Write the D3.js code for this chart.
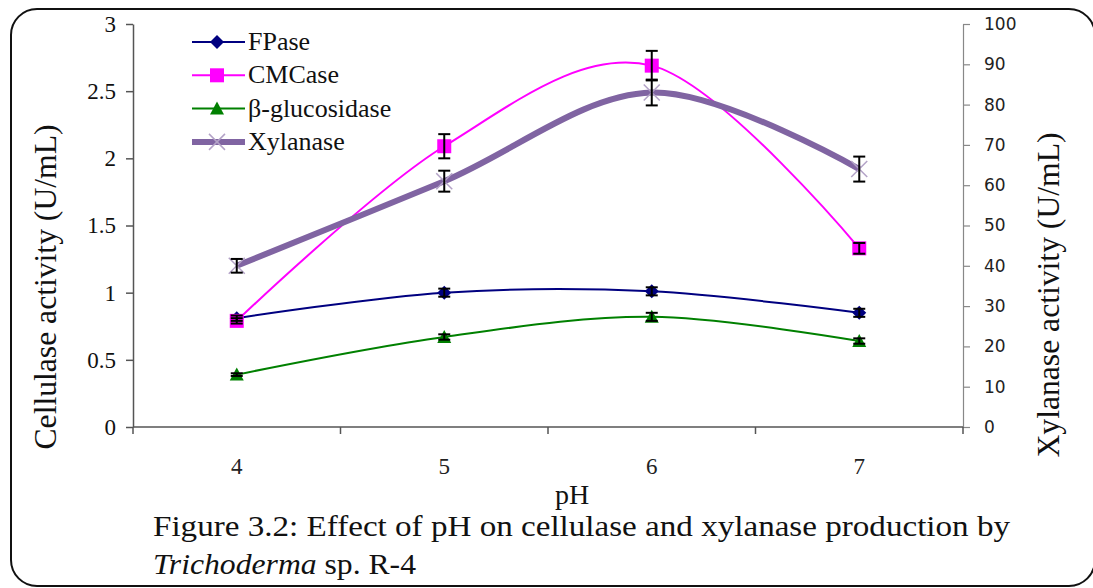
<!DOCTYPE html>
<html>
<head>
<meta charset="utf-8">
<script src="https://cdn.jsdelivr.net/npm/d3@7"></script>
<style>
  body { margin: 0; background: #fff; }
  svg { display: block; }
  .serif { font-family: "Times New Roman", "Liberation Serif", Tinos, serif; }
</style>
</head>
<body>
<div id="chart"></div>
<script>
var w = 1093;
var h = 588;

// data
var phLevels = ["4", "5", "6", "7"];
var fpase = [0.81, 1.0, 1.01, 0.85];
var fpaseErr = [0.02, 0.03, 0.03, 0.03];
var cmcase = [0.79, 2.09, 2.69, 1.33];
var cmcaseErr = [0.02, 0.09, 0.11, 0.04];
var bgluc = [0.39, 0.67, 0.82, 0.64];
var bglucErr = [0.01, 0.02, 0.03, 0.02];
var xylanase = [40, 61, 83, 64];
var xylanaseErr = [1.7, 2.6, 3.2, 3.1];
var leftTicks = [0, 0.5, 1, 1.5, 2, 2.5, 3];
var rightTicks = [0, 10, 20, 30, 40, 50, 60, 70, 80, 90, 100];

var plotLeft = 133, plotRight = 963, plotTop = 24, plotBottom = 427;

var svg = d3.select("#chart")
	.append("svg")
	.attr("width", w)
	.attr("height", h);

// rounded frame
svg.append("rect")
	.attr("x", 11).attr("y", 9)
	.attr("width", 1084).attr("height", 577)
	.attr("rx", 26).attr("ry", 26)
	.attr("fill", "none")
	.attr("stroke", "#111")
	.attr("stroke-width", 2);

var xScale = d3.scaleBand()
	.domain(phLevels)
	.range([plotLeft, plotRight]);

var yScale = d3.scaleLinear()
	.domain([0, 3])
	.range([plotBottom, plotTop]);

var y2Scale = d3.scaleLinear()
	.domain([0, 100])
	.range([plotBottom, plotTop]);

var cx = function(i) { return xScale(phLevels[i]) + xScale.bandwidth() / 2; };

// left axis
var gy = svg.append("g")
	.attr("transform", "translate(" + plotLeft + ",0)")
	.call(d3.axisLeft(yScale).tickValues(leftTicks).tickSize(7).tickSizeOuter(0).tickPadding(10)
		.tickFormat(function(d) { return d; }));
gy.select(".domain").attr("stroke", "#555").attr("stroke-width", 1.5);
gy.selectAll(".tick line").attr("stroke", "#555").attr("stroke-width", 1.5);
gy.selectAll(".tick text")
	.attr("class", "serif")
	.attr("font-family", null)
	.attr("font-size", 23)
	.attr("fill", "#111");
gy.attr("font-family", null);

// right axis
var gy2 = svg.append("g")
	.attr("transform", "translate(" + plotRight + ",0)")
	.call(d3.axisRight(y2Scale).tickValues(rightTicks).tickSize(7).tickSizeOuter(0).tickPadding(14));
gy2.select(".domain").attr("stroke", "#888").attr("stroke-width", 1.2);
gy2.selectAll(".tick line").attr("stroke", "#888").attr("stroke-width", 1.2);
gy2.selectAll(".tick text")
	.attr("font-family", "DejaVu Sans")
	.attr("font-size", 17)
	.attr("fill", "#222");

// x axis, ticks sit between categories
var xEdges = phLevels.map(function(d) { return xScale(d); }).concat([plotRight]);
svg.append("line")
	.attr("x1", plotLeft).attr("x2", plotRight)
	.attr("y1", plotBottom).attr("y2", plotBottom)
	.attr("stroke", "#555").attr("stroke-width", 1.5);
svg.selectAll(".xtick")
	.data(xEdges)
	.enter()
	.append("line")
	.attr("x1", function(d) { return d; })
	.attr("x2", function(d) { return d; })
	.attr("y1", plotBottom).attr("y2", plotBottom + 7)
	.attr("stroke", "#555").attr("stroke-width", 1.5);
svg.selectAll(".xlabel")
	.data(phLevels)
	.enter()
	.append("text")
	.attr("class", "serif")
	.attr("x", function(d, i) { return cx(i); })
	.attr("y", 474)
	.attr("text-anchor", "middle")
	.attr("font-size", 23)
	.attr("fill", "#222")
	.text(function(d) { return d; });

// axis titles
svg.append("text")
	.attr("class", "serif")
	.attr("transform", "translate(56,287) rotate(-90)")
	.attr("text-anchor", "middle")
	.attr("font-size", 31)
	.attr("fill", "#111")
	.attr("textLength", 325)
	.attr("lengthAdjust", "spacingAndGlyphs")
	.text("Cellulase activity (U/mL)");
svg.append("text")
	.attr("class", "serif")
	.attr("transform", "translate(1059,295) rotate(-90)")
	.attr("text-anchor", "middle")
	.attr("font-size", 31)
	.attr("fill", "#111")
	.attr("textLength", 325)
	.attr("lengthAdjust", "spacingAndGlyphs")
	.text("Xylanase activity (U/mL)");
svg.append("text")
	.attr("class", "serif")
	.attr("x", 572).attr("y", 504)
	.attr("text-anchor", "middle")
	.attr("font-size", 28)
	.attr("fill", "#111")
	.text("pH");

// caption
svg.append("text")
	.attr("class", "serif")
	.attr("x", 153).attr("y", 536)
	.attr("font-size", 30)
	.attr("fill", "#111")
	.attr("textLength", 857)
	.attr("lengthAdjust", "spacingAndGlyphs")
	.text("Figure 3.2: Effect of pH on cellulase and xylanase production by");
var cap2 = svg.append("text")
	.attr("class", "serif")
	.attr("x", 153).attr("y", 574)
	.attr("font-size", 30)
	.attr("fill", "#111")
	.attr("textLength", 263)
	.attr("lengthAdjust", "spacingAndGlyphs");
cap2.append("tspan").attr("font-style", "italic").text("Trichoderma");
cap2.append("tspan").text(" sp. R-4");

var series = [
	{ name: "FPase", values: fpase, err: fpaseErr, scale: yScale, color: "#000080", width: 2, marker: "diamond" },
	{ name: "CMCase", values: cmcase, err: cmcaseErr, scale: yScale, color: "#FF00FF", width: 2, marker: "square" },
	{ name: "\u03b2-glucosidase", values: bgluc, err: bglucErr, scale: yScale, color: "#008000", width: 2, marker: "triangle" },
	{ name: "Xylanase", values: xylanase, err: xylanaseErr, scale: y2Scale, color: "#8064A2", width: 6, marker: "cross" }
];

var drawMarker = function(g, type, color) {
	if (type === "diamond") {
		g.append("path").attr("d", "M0,-7L7,0L0,7L-7,0Z").attr("fill", color);
	} else if (type === "square") {
		g.append("rect").attr("x", -7).attr("y", -7).attr("width", 14).attr("height", 14).attr("fill", color);
	} else if (type === "triangle") {
		g.append("path").attr("d", "M0,-7L7,6L-7,6Z").attr("fill", color);
	} else {
		g.append("path").attr("d", "M-8,-8L8,8M-8,8L8,-8")
			.attr("stroke", "#B3A2C7").attr("stroke-width", 1.5).attr("fill", "none");
	}
};

var line = d3.line()
	.curve(d3.curveCardinal.tension(0));

series.forEach(function(s) {
	svg.append("path")
		.attr("d", line(s.values.map(function(v, i) { return [cx(i), s.scale(v)]; })))
		.attr("fill", "none")
		.attr("stroke", s.color)
		.attr("stroke-width", s.width);
});

series.forEach(function(s) {
	s.values.forEach(function(v, i) {
		var g = svg.append("g").attr("transform", "translate(" + cx(i) + "," + s.scale(v) + ")");
		drawMarker(g, s.marker, s.color);
	});
});

// error bars on top
series.forEach(function(s) {
	s.values.forEach(function(v, i) {
		var x = cx(i);
		var y1 = s.scale(v + s.err[i]), y0 = s.scale(v - s.err[i]);
		var eb = svg.append("g").attr("stroke", "#000").attr("stroke-width", 2);
		eb.append("line").attr("x1", x).attr("x2", x).attr("y1", y1).attr("y2", y0);
		eb.append("line").attr("x1", x - 6).attr("x2", x + 6).attr("y1", y1).attr("y2", y1);
		eb.append("line").attr("x1", x - 6).attr("x2", x + 6).attr("y1", y0).attr("y2", y0);
	});
});

// legend
var legend = svg.append("g");
series.forEach(function(s, i) {
	var ly = 42 + i * 33.3;
	legend.append("line")
		.attr("x1", 192).attr("x2", 245)
		.attr("y1", ly).attr("y2", ly)
		.attr("stroke", s.color)
		.attr("stroke-width", s.width);
	var g = legend.append("g").attr("transform", "translate(217," + ly + ")");
	drawMarker(g, s.marker, s.color);
	legend.append("text")
		.attr("class", "serif")
		.attr("x", 248).attr("y", ly + 8)
		.attr("font-size", 26)
		.attr("fill", "#111")
		.text(s.name);
});
</script>
</body>
</html>
